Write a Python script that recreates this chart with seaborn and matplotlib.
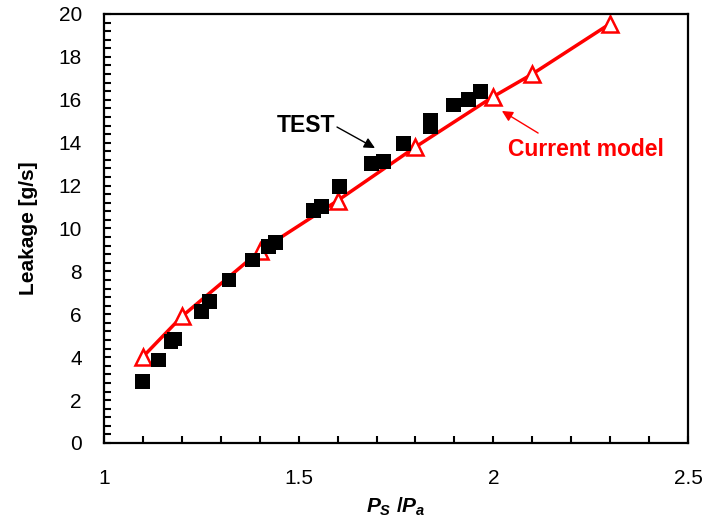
import matplotlib
matplotlib.use("Agg")
import matplotlib.pyplot as plt
import seaborn as sns
import numpy as np
from matplotlib.ticker import MultipleLocator

# Test data (black squares)
test_x = [1.10, 1.14, 1.172, 1.18, 1.251, 1.27, 1.321, 1.381, 1.422, 1.441,
          1.538, 1.559, 1.606, 1.688, 1.717, 1.769, 1.839, 1.839, 1.897, 1.936, 1.968]
test_y = [2.86, 3.87, 4.72, 4.85, 6.12, 6.59, 7.6, 8.53, 9.15, 9.36,
          10.86, 11.02, 11.95, 13.04, 13.11, 13.97, 14.75, 15.05, 15.76, 16.0, 16.38]

# Current model (red triangles + line)
model_x = [1.1, 1.2, 1.4, 1.6, 1.8, 2.0, 2.1, 2.3]
model_y = [4.02, 5.9, 8.95, 11.3, 13.8, 16.15, 17.2, 19.55]

x_ticks = [1, 1.5, 2, 2.5]
x_tick_labels = ["1", "1.5", "2", "2.5"]
y_ticks = [0, 2, 4, 6, 8, 10, 12, 14, 16, 18, 20]

sns.set_style("white")
plt.rcParams["font.family"] = ["Liberation Sans", "DejaVu Sans"]
plt.rcParams["mathtext.fontset"] = "custom"
plt.rcParams["mathtext.it"] = "Liberation Sans:italic:bold"
plt.rcParams["mathtext.rm"] = "Liberation Sans:bold"
plt.rcParams["text.color"] = "black"
plt.rcParams["axes.labelcolor"] = "black"
plt.rcParams["xtick.color"] = "black"
plt.rcParams["ytick.color"] = "black"

fig = plt.figure(figsize=(7.07, 5.25), dpi=100)
ax = fig.add_axes([104/707, 1-443/525, (688-104)/707, (443-14)/525])

sns.lineplot(x=model_x, y=model_y, ax=ax, color="red", lw=2.5, marker="^",
             markersize=12, markerfacecolor="white", markeredgecolor="red",
             markeredgewidth=1.8, zorder=2)
sns.scatterplot(x=test_x, y=test_y, ax=ax, marker="s", s=115, color="black",
                edgecolor="none", linewidth=0, zorder=3)

ax.set_xlim(1, 2.5)
ax.set_ylim(0, 20)
ax.set_xticks(x_ticks)
ax.set_xticklabels(x_tick_labels)
ax.set_yticks(y_ticks)
ax.xaxis.set_minor_locator(MultipleLocator(0.1))
ax.yaxis.set_minor_locator(MultipleLocator(0.4))
ax.tick_params(axis="both", which="both", direction="in", length=5, width=1.5,
               colors="black", labelsize=15, labelcolor="black",
               bottom=True, left=True, top=False, right=False)
ax.tick_params(axis="x", which="major", pad=18.5)
ax.tick_params(axis="y", which="major", pad=16)
for sp in ax.spines.values():
    sp.set_visible(True)
    sp.set_color("black")
    sp.set_linewidth(1.6)

ax.set_ylabel("Leakage [g/s]", fontsize=15, fontweight="bold", labelpad=15, color="black")
ax.set_xlabel(r"$P_S$ /$P_a$", fontsize=15, fontweight="bold", labelpad=5.5, color="black")

ax.text(1.519, 14.80, "TEST", fontsize=16.5, fontweight="bold", color="black",
        ha="center", va="center")
ax.annotate("", xy=(1.696, 13.75), xytext=(1.5985, 14.73),
            arrowprops=dict(arrowstyle="-|>", color="black", lw=1.0, mutation_scale=16,
                            shrinkA=0, shrinkB=0))
ax.text(2.238, 13.66, "Current model", fontsize=16.5, fontweight="bold", color="red",
        ha="center", va="center")
ax.annotate("", xy=(2.022, 15.48), xytext=(2.115, 14.45),
            arrowprops=dict(arrowstyle="-|>", color="red", lw=1.0, mutation_scale=16,
                            shrinkA=0, shrinkB=0))

fig.savefig("out.png", dpi=100)
